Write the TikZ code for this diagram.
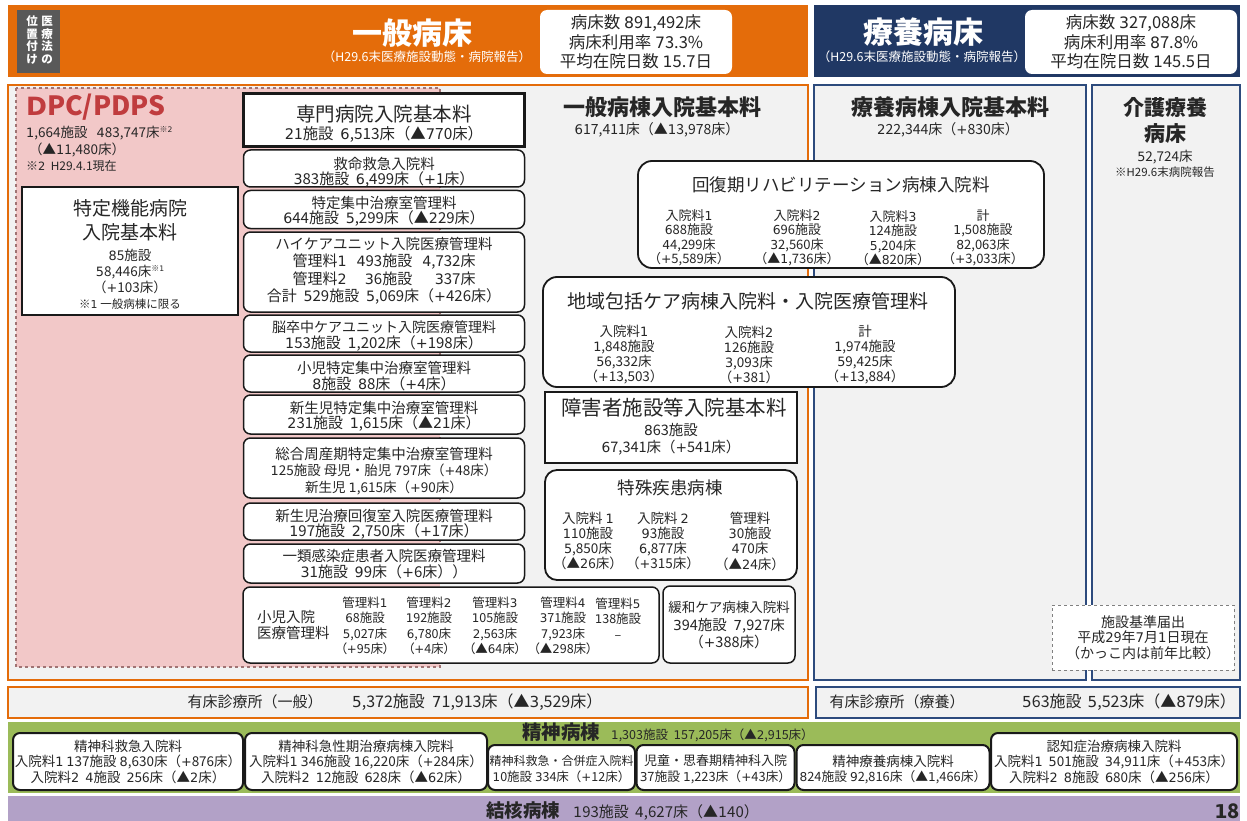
\documentclass[tikz,border=0pt]{standalone}
\usepackage{fontspec}
\setmainfont{Noto Sans CJK JP}
\newfontfamily\mainfam{Noto Sans CJK JP}
\newfontfamily\paltfam[RawFeature=+palt]{Noto Sans CJK JP}
\newfontfamily\latfont[Scale=0.95]{DejaVu Sans}
\newcommand\cjkback{\mainfam}
\newcommand\usepalt{\paltfam\def\cjkback{\paltfam}}
\newcommand\sz[2]{\fontsize{#1}{#2}\selectfont}
\newXeTeXintercharclass\latcls
\makeatletter
\def\setlatcls#1#2{\count@=#1\relax\loop\XeTeXcharclass\count@=\latcls\relax\ifnum\count@<#2\relax\advance\count@\@ne\repeat}
\setlatcls{`0}{`9}
\setlatcls{`A}{`Z}
\setlatcls{`a}{`z}
\XeTeXcharclass`\,=\latcls
\XeTeXcharclass`\.=\latcls
\XeTeXcharclass`\+=\latcls
\XeTeXcharclass`\/=\latcls
\count@=0
\loop\XeTeXinterchartoks\count@\latcls={\latfont}\XeTeXinterchartoks\latcls\count@={\cjkback}\ifnum\count@<3\relax\advance\count@\@ne\repeat
\XeTeXinterchartoks 4095 \latcls={\latfont}
\XeTeXinterchartoks \latcls 4095 ={\cjkback}
\makeatother
\XeTeXinterchartokenstate=1
\definecolor{orng}{RGB}{228,108,10}
\definecolor{navy}{RGB}{32,56,100}
\definecolor{navyl}{RGB}{45,75,125}
\definecolor{lgray}{RGB}{242,242,242}
\definecolor{pinkf}{RGB}{242,200,200}
\definecolor{dpcb}{RGB}{160,115,115}
\definecolor{dpcred}{RGB}{192,60,62}
\definecolor{grn}{RGB}{155,187,89}
\definecolor{purp}{RGB}{178,161,199}
\definecolor{lblg}{RGB}{89,89,89}
\definecolor{txt}{RGB}{38,38,38}
\definecolor{bord}{RGB}{25,25,25}
\begin{document}
\begin{tikzpicture}[x=1pt,y=-1pt,
  tx/.style={inner sep=0pt, align=center, text=txt},
  rb/.style={draw=bord, line width=1.5pt, rounded corners=7pt, fill=white, inner sep=0pt},
  rbig/.style={rb, rounded corners=14pt, line width=1.8pt},
  sb/.style={draw=bord, line width=2.4pt, fill=white, inner sep=0pt},
  stat/.style={fill=white, rounded corners=7pt, inner sep=0pt, minimum height=64},
]
\useasboundingbox (0,0) rectangle (1247,821);
\fill[white] (0,0) rectangle (1247,821);
% ---------- header ----------
\fill[orng] (8,5) rectangle (808,77);
\fill[navy] (814,5) rectangle (1240,77);
\fill[lblg] (17,10) rectangle (60,73);
\node[tx, text=white, font={\bfseries\sz{11.5}{12.5}}] (lblA) at (47,40) {医\\療\\法\\の};
\node[tx, text=white, font={\bfseries\sz{11.5}{12.5}}] (lblB) at (32,40) {位\\置\\付\\け};
\node[tx, text=white, font={\bfseries\sz{30}{30}}] (ippan) at (412,33) {一般病床};
\node[tx, text=white, font={\sz{12.5}{13}}] (ippansub) at (427,57) {（H29.6末医療施設動態・病院報告）};
\node[stat, minimum width=192] (ippanstatbox) at (636,42) {};
\node[tx, font={\sz{16.5}{19.5}}] (ippanstat) at (636,42) {病床数\ 891,492床\\病床利用率\ 73.3\%\\平均在院日数\ 15.7日};
\node[tx, text=white, font={\bfseries\sz{30}{30}}] (ryoyo) at (923,32) {療養病床};
\node[tx, text=white, font={\sz{12.5}{13}}] (ryoyosub) at (922,57) {（H29.6末医療施設動態・病院報告）};
\node[stat, minimum width=212] (ryoyostatbox) at (1131,42) {};
\node[tx, font={\sz{16.5}{19.5}}] (ryoyostat) at (1131,42) {病床数\ 327,088床\\病床利用率\ 87.8\%\\平均在院日数\ 145.5日};
% ---------- main regions ----------
\draw[orng, line width=2pt, fill=lgray] (8,85) rectangle (808,680);
\draw[navyl, line width=2pt, fill=lgray] (814,85) rectangle (1086,680);
\draw[navyl, line width=2pt, fill=lgray] (1092,85) rectangle (1240,680);
\draw[dpcb, dashed, line width=1.2pt, fill=pinkf] (16,88) rectangle (440,667);
% DPC
\node[tx, anchor=west, text=dpcred, font={\bfseries\sz{26.5}{27}}] (dpc) at (26,107) {DPC/PDPS};
\node[tx, anchor=north west, align=left, font={\sz{13.5}{16.5}}] (dpcinfo) at (26,126) {1,664施設\ \ \ 483,747床{\sz{8}{8}\raisebox{5pt}{※2}}\\\ （▲11,480床）\\{\sz{12}{16}※2\ \ H29.4.1現在}};
\node[sb, minimum width=216, minimum height=128] (tokutei) at (130,251) {};
\node[tx, font={\sz{19}{24}}] (tokuteiT) at (130,220) {特定機能病院\\入院基本料};
\node[tx, font={\sz{13.5}{16}}] (tokuteiB) at (130,271) {85施設\\58,446床{\sz{8}{8}\raisebox{5pt}{※1}}\\（+103床）};
\node[tx, font={\sz{11.5}{12}}] (tokuteiN) at (130,304) {※1\ 一般病棟に限る};
% middle column
\node[sb, minimum width=281, minimum height=53] (senmon) at (384,120) {};
\node[tx, font={\sz{19.5}{20}}] (senmonT) at (384,114) {専門病院入院基本料};
\node[tx, font={\sz{15.4}{16}}] (senmonB) at (384,134) {21施設\ \ 6,513床（▲770床）};
\node[rb, minimum width=281, minimum height=37] (kyumei) at (384,168.5) {};
\node[tx, font={\sz{14.5}{16}}] (kyumeiT) at (384,163.5) {救命救急入院料};
\node[tx, font={\sz{15}{16}}] (kyumeiB) at (384,179.5) {383施設\ \ 6,499床（+1床）};
\node[rb, minimum width=281, minimum height=38] (tokuchu) at (384,209.5) {};
\node[tx, font={\sz{14.5}{16}}] (tokuchuT) at (384,202.5) {特定集中治療室管理料};
\node[tx, font={\sz{15}{16}}] (tokuchuB) at (384,218.5) {644施設\ \ 5,299床（▲229床）};
\node[rb, minimum width=281, minimum height=80] (hcu) at (384,272) {};
\node[tx, font={\sz{14.5}{16}}] (hcuT) at (384,244) {ハイケアユニット入院医療管理料};
\node[tx, font={\sz{15}{17}}] (hcuR) at (384,271.5) {\begin{tabular}{@{}l@{\hspace{10pt}}r@{\hspace{10pt}}r@{}}管理料1 & 493施設 & 4,732床\\管理料2 & 36施設 & 337床\end{tabular}};
\node[tx, font={\sz{15}{16}}] (hcuS) at (384,297) {合計\ \ 529施設\ \ 5,069床（+426床）};
\node[rb, minimum width=281, minimum height=37] (nsc) at (384,333.5) {};
\node[tx, font={\sz{14}{16}}] (nscT) at (384,327.5) {脳卒中ケアユニット入院医療管理料};
\node[tx, font={\sz{15}{16}}] (nscB) at (384,343.5) {153施設\ \ 1,202床（+198床）};
\node[rb, minimum width=281, minimum height=37] (picu) at (384,373.5) {};
\node[tx, font={\sz{14.5}{16}}] (picuT) at (384,367.5) {小児特定集中治療室管理料};
\node[tx, font={\sz{15}{16}}] (picuB) at (384,383.5) {8施設\ \ 88床（+4床）};
\node[rb, minimum width=281, minimum height=39] (nicu) at (384,414.5) {};
\node[tx, font={\sz{14.5}{16}}] (nicuT) at (384,407.5) {新生児特定集中治療室管理料};
\node[tx, font={\sz{15}{16}}] (nicuB) at (384,423.5) {231施設\ \ 1,615床（▲21床）};
\node[rb, minimum width=281, minimum height=60] (sogo) at (384,468) {};
\node[tx, font={\sz{14.5}{17}}] (sogoT) at (384,454) {総合周産期特定集中治療室管理料};
\node[tx, font={\sz{13.5}{17}}] (sogoB) at (384,479.5) {125施設\ 母児・胎児\ 797床（+48床）\\新生児\ 1,615床（+90床）};
\node[rb, minimum width=281, minimum height=37] (gcu) at (384,521.5) {};
\node[tx, font={\sz{14.5}{16}}] (gcuT) at (384,515.5) {新生児治療回復室入院医療管理料};
\node[tx, font={\sz{15}{16}}] (gcuB) at (384,531.5) {197施設\ \ 2,750床（+17床）};
\node[rb, minimum width=281, minimum height=39] (ichirui) at (384,563.5) {};
\node[tx, font={\sz{14.5}{16}}] (ichiruiT) at (384,556) {一類感染症患者入院医療管理料};
\node[tx, font={\sz{15}{16}}] (ichiruiB) at (384,572) {31施設\ \ 99床（+6床））};
% shoni nyuin
\node[rb, minimum width=416, minimum height=76] (shoni) at (451,625) {};
\node[tx, anchor=west, align=left, font={\sz{14.5}{16.5}}] (shoniL) at (257,625) {小児入院\\医療管理料};
\node[tx, font={\usepalt\sz{12.5}{15.5}}] (shoni1) at (365,626) {管理料1\\68施設\\5,027床\\（+95床）};
\node[tx, font={\usepalt\sz{12.5}{15.5}}] (shoni2) at (429,626) {管理料2\\192施設\\6,780床\\（+4床）};
\node[tx, font={\usepalt\sz{12.5}{15.5}}] (shoni3) at (495,626) {管理料3\\105施設\\2,563床\\（▲64床）};
\node[tx, font={\usepalt\sz{12.5}{15.5}}] (shoni4) at (563,626) {管理料4\\371施設\\7,923床\\（▲298床）};
\node[tx, font={\usepalt\sz{12.5}{15.5}}] (shoni5) at (618,618.5) {管理料5\\138施設\\–};
\node[rb, minimum width=132, minimum height=77] (kanwa) at (729,624.5) {};
\node[tx, font={\sz{13.5}{17}}] (kanwaT) at (729,607.5) {緩和ケア病棟入院料};
\node[tx, font={\sz{14.5}{17}}] (kanwaB) at (729,633.5) {394施設\ \ 7,927床\\（+388床）};
% ippan byoto
\node[tx, font={\bfseries\sz{22}{22}}] (ippanbyoto) at (662,107) {一般病棟入院基本料};
\node[tx, font={\sz{14}{14}}] (ippanbyotoB) at (657,130) {617,411床（▲13,978床）};
% ryoyo byoto
\node[tx, font={\bfseries\sz{22}{22}}] (ryoyobyoto) at (950,107) {療養病棟入院基本料};
\node[tx, font={\sz{14}{14}}] (ryoyobyotoB) at (948,130) {222,344床（+830床）};
\node[tx, font={\bfseries\sz{21}{26}}] (kaigoT) at (1165,120) {介護療養\\病床};
\node[tx, font={\sz{13.5}{14}}] (kaigoB) at (1165,157) {52,724床};
\node[tx, font={\sz{11.5}{12}}] (kaigoN) at (1165,172) {※H29.6末病院報告};
% kaifukuki
\node[rbig, minimum width=406, minimum height=107] (kaif) at (841,214.5) {};
\node[tx, font={\sz{17.5}{18}}] (kaifT) at (841,185) {回復期リハビリテーション病棟入院料};
\node[tx, font={\sz{13}{14.5}}] (kaif1) at (689,238) {入院料1\\688施設\\44,299床\\（+5,589床）};
\node[tx, font={\sz{13}{14.5}}] (kaif2) at (797,238) {入院料2\\696施設\\32,560床\\（▲1,736床）};
\node[tx, font={\sz{13}{14.5}}] (kaif3) at (893,238) {入院料3\\124施設\\5,204床\\（▲820床）};
\node[tx, font={\sz{13}{14.5}}] (kaif4) at (983,238) {計\\1,508施設\\82,063床\\（+3,033床）};
% chiiki
\node[rbig, minimum width=412, minimum height=110] (chiiki) at (749,332) {};
\node[tx, font={\sz{19}{19}}] (chiikiT) at (748,301) {地域包括ケア病棟入院料・入院医療管理料};
\node[tx, font={\sz{13.5}{15}}] (chiiki1) at (624,354.5) {入院料1\\1,848施設\\56,332床\\（+13,503）};
\node[tx, font={\sz{13.5}{15}}] (chiiki2) at (749,354.5) {入院料2\\126施設\\3,093床\\（+381）};
\node[tx, font={\sz{13.5}{15}}] (chiiki3) at (865,354.5) {計\\1,974施設\\59,425床\\（+13,884）};
% shogaisha
\node[sb, minimum width=252, minimum height=71] (shogai) at (671,427.5) {};
\node[tx, font={\sz{20.5}{21}}] (shogaiT) at (674,408) {障害者施設等入院基本料};
\node[tx, font={\sz{14.5}{17}}] (shogaiB) at (671,439.5) {863施設\\67,341床（+541床）};
% tokushu
\node[rbig, rounded corners=12pt, minimum width=252, minimum height=110] (tokushu) at (671,525) {};
\node[tx, font={\sz{17.5}{18}}] (tokushuT) at (670,488) {特殊疾患病棟};
\node[tx, font={\sz{13.5}{15.3}}] (tokushu1) at (588,541) {入院料\ 1\\110施設\\5,850床\\（▲26床）};
\node[tx, font={\sz{13.5}{15.3}}] (tokushu2) at (663,541) {入院料\ 2\\93施設\\6,877床\\（+315床）};
\node[tx, font={\sz{13.5}{15.3}}] (tokushu3) at (750,541) {管理料\\30施設\\470床\\（▲24床）};
% shisetsu kijun
\node[draw=gray, dashed, line width=1pt, fill=white, inner sep=0pt, minimum width=182, minimum height=65] (kijun) at (1143,637.5) {};
\node[tx, font={\sz{14}{15.5}}] (kijunT) at (1143,637.5) {施設基準届出\\平成29年7月1日現在\\（かっこ内は前年比較）};
% ---------- bottom ----------
\draw[orng, line width=2pt, fill=lgray] (8,687) rectangle (808,718);
\node[tx, font={\sz{15}{16}}] (yushoA) at (255,702) {有床診療所（一般）};
\node[tx, anchor=west, font={\sz{16}{16}}] (yushoAB) at (352,702) {5,372施設\hspace{7pt}71,913床（▲3,529床）};
\draw[navyl, line width=2pt, fill=lgray] (816,687) rectangle (1240,718);
\node[tx, font={\sz{15}{16}}] (yushoR) at (897,702) {有床診療所（療養）};
\node[tx, anchor=west, font={\sz{16}{16}}] (yushoRB) at (1022,702) {563施設\hspace{6pt}5,523床（▲879床）};
\fill[grn] (8,722) rectangle (1240,793);
\node[tx, anchor=base west, font={\bfseries\sz{19.5}{20}}] (seishin) at (522,739) {精神病棟};
\node[tx, anchor=base west, font={\sz{12.5}{13}}] (seishinB) at (611,739) {1,303施設\ \ 157,205床（▲2,915床）};
\node[rb, line width=2pt, minimum width=230, minimum height=57] (psA) at (128,761.5) {};
\node[tx, font={\sz{13.5}{15.5}}] (psAT) at (128,761.5) {精神科救急入院料\\入院料1\ 137施設\ 8,630床（+876床）\\入院料2\ \ 4施設\ \ 256床（▲2床）};
\node[rb, line width=2pt, minimum width=242, minimum height=57] (psB) at (366,761.5) {};
\node[tx, font={\sz{13.5}{15.5}}] (psBT) at (366,761.5) {精神科急性期治療病棟入院料\\入院料1\ 346施設\ 16,220床（+284床）\\入院料2\ \ 12施設\ \ 628床（▲62床）};
\node[rb, line width=2pt, minimum width=147, minimum height=45] (psC) at (561.5,767.5) {};
\node[tx, font={\sz{12}{15.5}}] (psCT) at (561.5,761) {精神科救急・合併症入院料};
\node[tx, font={\sz{12.5}{15.5}}] (psCB) at (561.5,777) {10施設\ 334床（+12床）};
\node[rb, line width=2pt, minimum width=158, minimum height=45] (psD) at (715.5,767.5) {};
\node[tx, font={\sz{13}{15.5}}] (psDT) at (715.5,761) {児童・思春期精神科入院};
\node[tx, font={\sz{12.8}{15.5}}] (psDB) at (715.5,777) {37施設\ 1,223床（+43床）};
\node[rb, line width=2pt, minimum width=193, minimum height=45] (psE) at (893,767.5) {};
\node[tx, font={\sz{13.5}{15.5}}] (psET) at (893,761) {精神療養病棟入院料};
\node[tx, font={\sz{12.8}{15.5}}] (psEB) at (893,777) {824施設\ 92,816床（▲1,466床）};
\node[rb, line width=2pt, minimum width=246, minimum height=57] (psF) at (1114,761.5) {};
\node[tx, font={\sz{13.5}{15.5}}] (psFT) at (1114,761.5) {認知症治療病棟入院料\\入院料1\ \ 501施設\ \ 34,911床（+453床）\\入院料2\ \ 8施設\ \ 680床（▲256床）};
\fill[purp] (8,796) rectangle (1240,821);
\node[tx, anchor=base west, font={\bfseries\sz{18.5}{19}}] (kekkaku) at (486,817) {結核病棟};
\node[tx, anchor=base west, font={\sz{15}{15}}] (kekkakuB) at (573,817) {193施設\hspace{6pt}4,627床（▲140）};
\node[tx, anchor=base east, font={\bfseries\sz{20}{20}}] (pageno) at (1240,818) {18};
\end{tikzpicture}
\end{document}
